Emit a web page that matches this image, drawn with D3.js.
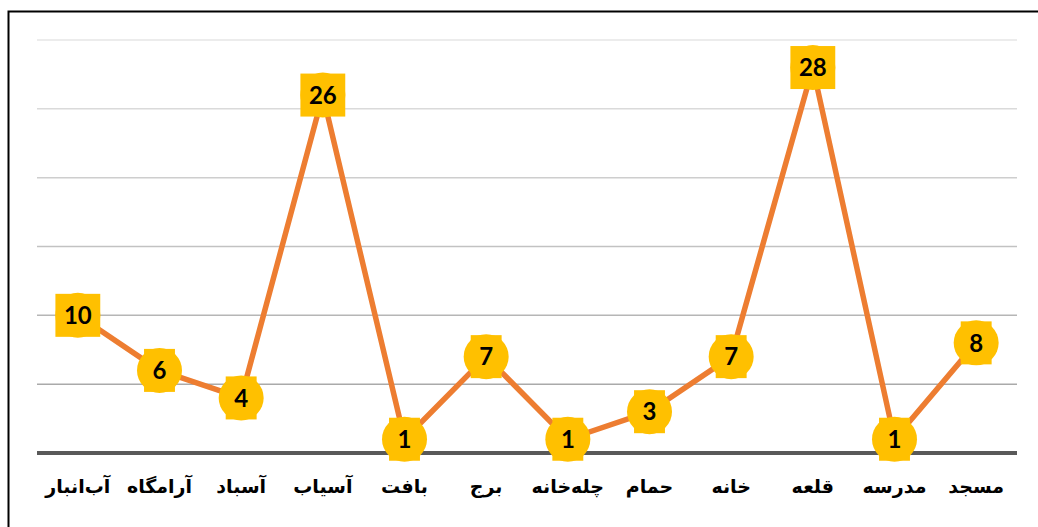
<!DOCTYPE html>
<html>
<head>
<meta charset="utf-8">
<script src="https://cdn.jsdelivr.net/npm/d3@7"></script>
<style>
  body { margin: 0; background: #fff; }
  svg { display: block; }
</style>
</head>
<body>
<div id="chart"></div>
<script>
// categories along the x axis (Persian site types)
var categories = ["آب‌انبار", "آرامگاه", "آسباد", "آسیاب", "بافت", "برج",
                  "چله‌خانه", "حمام", "خانه", "قلعه", "مدرسه", "مسجد"];
// counts per category
var counts = [10, 6, 4, 26, 1, 7, 1, 3, 7, 28, 1, 8];
// gridline values
var yTicks = [0, 5, 10, 15, 20, 25, 30];

var W = 1038, H = 527;
var margin = {left: 37, right: 21, top: 40, bottom: 74};

var svg = d3.select("#chart").append("svg")
    .attr("width", W)
    .attr("height", H);

// frame around the chart (runs off the picture at right and bottom)
svg.append("rect")
    .attr("x", 8.5)
    .attr("y", 11.5)
    .attr("width", W + 20)
    .attr("height", H + 20)
    .attr("fill", "none")
    .attr("stroke", "#000")
    .attr("stroke-width", 2);

var x = d3.scaleBand()
    .domain(categories)
    .range([margin.left, W - margin.right]);

var y = d3.scaleLinear()
    .domain([0, 30])
    .range([H - margin.bottom, margin.top]);

// gridlines go from light at the top to darker near the axis
var gridColor = d3.scaleLinear()
    .domain([5, 30])
    .range(["#aaaaaa", "#e6e6e6"]);

svg.append("g")
    .selectAll("line")
    .data(yTicks.filter(function(d) { return d > 0; }))
    .join("line")
    .attr("x1", margin.left)
    .attr("x2", W - margin.right)
    .attr("y1", function(d) { return y(d); })
    .attr("y2", function(d) { return y(d); })
    .attr("stroke", function(d) { return gridColor(d); })
    .attr("stroke-width", 1.5);

// x axis with category labels
var xAxis = d3.axisBottom(x).tickSize(0).tickPadding(27);
var gx = svg.append("g")
    .attr("transform", "translate(0," + y(0) + ")")
    .call(xAxis);
gx.select(".domain")
    .attr("stroke", "#595959")
    .attr("stroke-width", 4)
    .attr("d", "M" + margin.left + ",0H" + (W - margin.right));
gx.selectAll("text")
    .attr("font-family", "'DejaVu Sans', sans-serif")
    .attr("font-weight", "bold")
    .attr("font-size", 19)
    .attr("fill", "#000")
    .attr("direction", "rtl");

var cx = function(d, i) { return x(categories[i]) + x.bandwidth() / 2; };
var cy = function(d) { return y(d); };

var line = d3.line()
    .x(cx)
    .y(cy);

svg.append("path")
    .datum(counts)
    .attr("fill", "none")
    .attr("stroke", "#ED7D31")
    .attr("stroke-width", 5.5)
    .attr("stroke-linejoin", "round")
    .attr("d", line);

var pts = svg.append("g")
    .selectAll("g")
    .data(counts)
    .join("g")
    .attr("transform", function(d, i) { return "translate(" + cx(d, i) + "," + cy(d) + ")"; });

pts.append("circle")
    .attr("r", 22.5)
    .attr("fill", "#FFC000");

var labels = pts.append("text")
    .attr("text-anchor", "middle")
    .attr("dy", "0.36em")
    .attr("font-family", "Lato, sans-serif")
    .attr("font-weight", "bold")
    .attr("font-size", 24)
    .attr("fill", "#000")
    .text(function(d) { return d; });

// label box behind the number
labels.each(function() {
  var w = this.getComputedTextLength() + 17;
  d3.select(this.parentNode).insert("rect", "text")
    .attr("x", -w / 2)
    .attr("y", -21.5)
    .attr("width", w)
    .attr("height", 43)
    .attr("fill", "#FFC000");
});
</script>
</body>
</html>
